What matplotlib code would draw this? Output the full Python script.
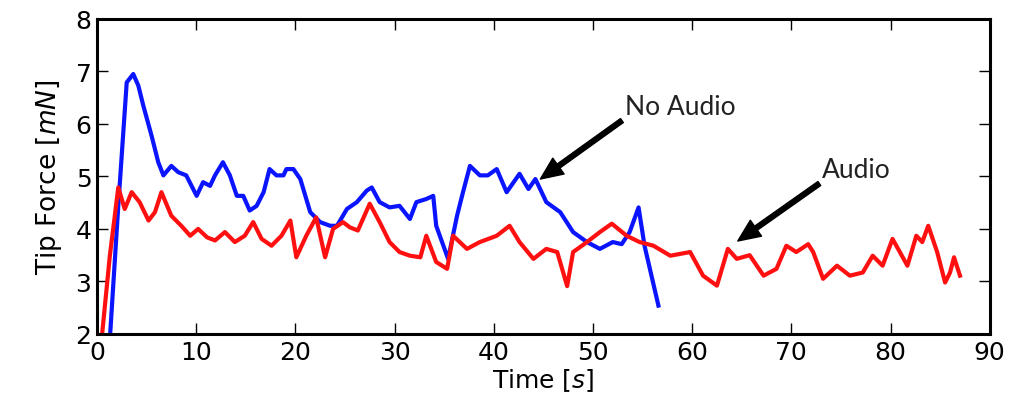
import matplotlib
matplotlib.use("Agg")
import matplotlib.pyplot as plt

# No Audio (blue)
t_noaudio = [1.3, 2.15, 3.0, 3.66, 4.17, 4.67, 5.5, 6.18, 6.7, 7.5, 8.2, 9.0, 10.05, 10.7,
             11.4, 11.9, 12.7, 13.4, 14.1, 14.75, 15.4, 16.1, 16.8, 17.4, 18.1, 18.8, 19.1,
             19.8, 20.5, 21.5, 22.5, 23.5, 24.2, 25.2, 26.2, 27.2, 27.7, 28.5, 29.5, 30.5,
             31.55, 32.2, 33.2, 33.9, 34.2, 35.4, 36.3, 36.9, 37.6, 38.6, 39.4, 40.3, 41.3,
             42.6, 43.5, 44.2, 45.3, 46.7, 48.0, 49.4, 50.7, 52.0, 52.9, 53.7, 54.6, 55.2, 56.6]
f_noaudio = [1.9, 4.44, 6.79, 6.95, 6.73, 6.35, 5.78, 5.27, 5.02, 5.2, 5.08, 5.02, 4.63, 4.89,
             4.82, 5.02, 5.27, 5.02, 4.63, 4.63, 4.35, 4.44, 4.70, 5.14, 5.02, 5.02, 5.14,
             5.14, 4.95, 4.32, 4.13, 4.06, 4.06, 4.38, 4.51, 4.73, 4.79, 4.51, 4.41, 4.44,
             4.19, 4.51, 4.57, 4.63, 4.06, 3.43, 4.25, 4.70, 5.2, 5.02, 5.02, 5.14, 4.70,
             5.05, 4.76, 4.95, 4.51, 4.32, 3.94, 3.75, 3.62, 3.75, 3.71, 3.94, 4.41, 3.68, 2.54]

# Audio (red)
t_audio = [0.47, 1.3, 2.15, 2.8, 3.5, 4.3, 5.2, 5.85, 6.5, 7.5, 8.5, 9.4, 10.2, 11.1, 11.9,
           12.9, 13.9, 14.9, 15.75, 16.6, 17.6, 18.6, 19.5, 20.1, 21.1, 22.1, 23.0, 23.8,
           24.8, 25.5, 26.3, 27.5, 28.5, 29.5, 30.5, 31.55, 32.6, 33.2, 34.2, 35.3, 35.9,
           37.3, 38.6, 40.3, 41.6, 42.6, 44.0, 45.3, 46.4, 47.4, 48.0, 49.4, 50.7, 51.9,
           53.4, 54.7, 56.1, 57.8, 59.8, 61.1, 62.5, 63.6, 64.5, 65.8, 67.2, 68.5, 69.5,
           70.5, 71.7, 72.2, 73.2, 74.6, 75.9, 77.2, 78.2, 79.2, 80.2, 81.7, 82.6, 83.2,
           83.8, 84.7, 85.5, 86.0, 86.4, 87.0]
f_audio = [1.9, 3.49, 4.79, 4.38, 4.70, 4.51, 4.16, 4.32, 4.70, 4.25, 4.06, 3.87, 4.0, 3.84, 3.78,
           3.94, 3.75, 3.87, 4.13, 3.81, 3.68, 3.87, 4.16, 3.46, 3.87, 4.22, 3.46, 4.0,
           4.13, 4.03, 3.97, 4.48, 4.13, 3.75, 3.56, 3.49, 3.46, 3.87, 3.37, 3.24, 3.87,
           3.62, 3.75, 3.87, 4.06, 3.75, 3.43, 3.62, 3.56, 2.91, 3.56, 3.75, 3.94, 4.1,
           3.87, 3.75, 3.68, 3.49, 3.56, 3.11, 2.92, 3.62, 3.43, 3.5, 3.11, 3.24, 3.68,
           3.56, 3.71, 3.56, 3.05, 3.3, 3.11, 3.17, 3.49, 3.3, 3.81, 3.3, 3.87, 3.75,
           4.06, 3.56, 2.98, 3.17, 3.46, 3.11]

xticks = [0, 10, 20, 30, 40, 50, 60, 70, 80, 90]
yticks = [2, 3, 4, 5, 6, 7, 8]

fig = plt.figure(figsize=(10.12, 4.06), dpi=100)
ax = fig.add_axes([0.0958, 0.175, 0.8822, 0.776])

ax.plot(t_noaudio, f_noaudio, color="#0a14ff", lw=3.0, solid_joinstyle="round")
ax.plot(t_audio, f_audio, color="#ff1010", lw=3.0, solid_joinstyle="round")

ax.set_xlim(0, 90)
ax.set_ylim(2, 8)
ax.set_xticks(xticks)
ax.set_yticks(yticks)
ax.tick_params(direction="in", top=True, right=True, length=8, width=1,
               labelsize=18, pad=4)
for s in ax.spines.values():
    s.set_linewidth(2.2)

ax.set_xlabel("Time [$s$]", fontsize=18, labelpad=2)
ax.set_ylabel("Tip Force [$mN$]", fontsize=19, labelpad=8)

ann_font = dict(fontsize=19, family=["Lato", "DejaVu Sans"], color="#222222")
ax.annotate("No Audio", xy=(44.7, 4.95), xytext=(53.2, 6.34),
            va="center", ha="left",
            arrowprops=dict(facecolor="black", edgecolor="black", width=3.5,
                            headwidth=14, headlength=16, shrink=0.0),
            **ann_font)
ax.annotate("Audio", xy=(64.6, 3.77), xytext=(73.1, 5.14),
            va="center", ha="left",
            arrowprops=dict(facecolor="black", edgecolor="black", width=3.5,
                            headwidth=14, headlength=16, shrink=0.0),
            **ann_font)

fig.savefig("out.png", dpi=100)
